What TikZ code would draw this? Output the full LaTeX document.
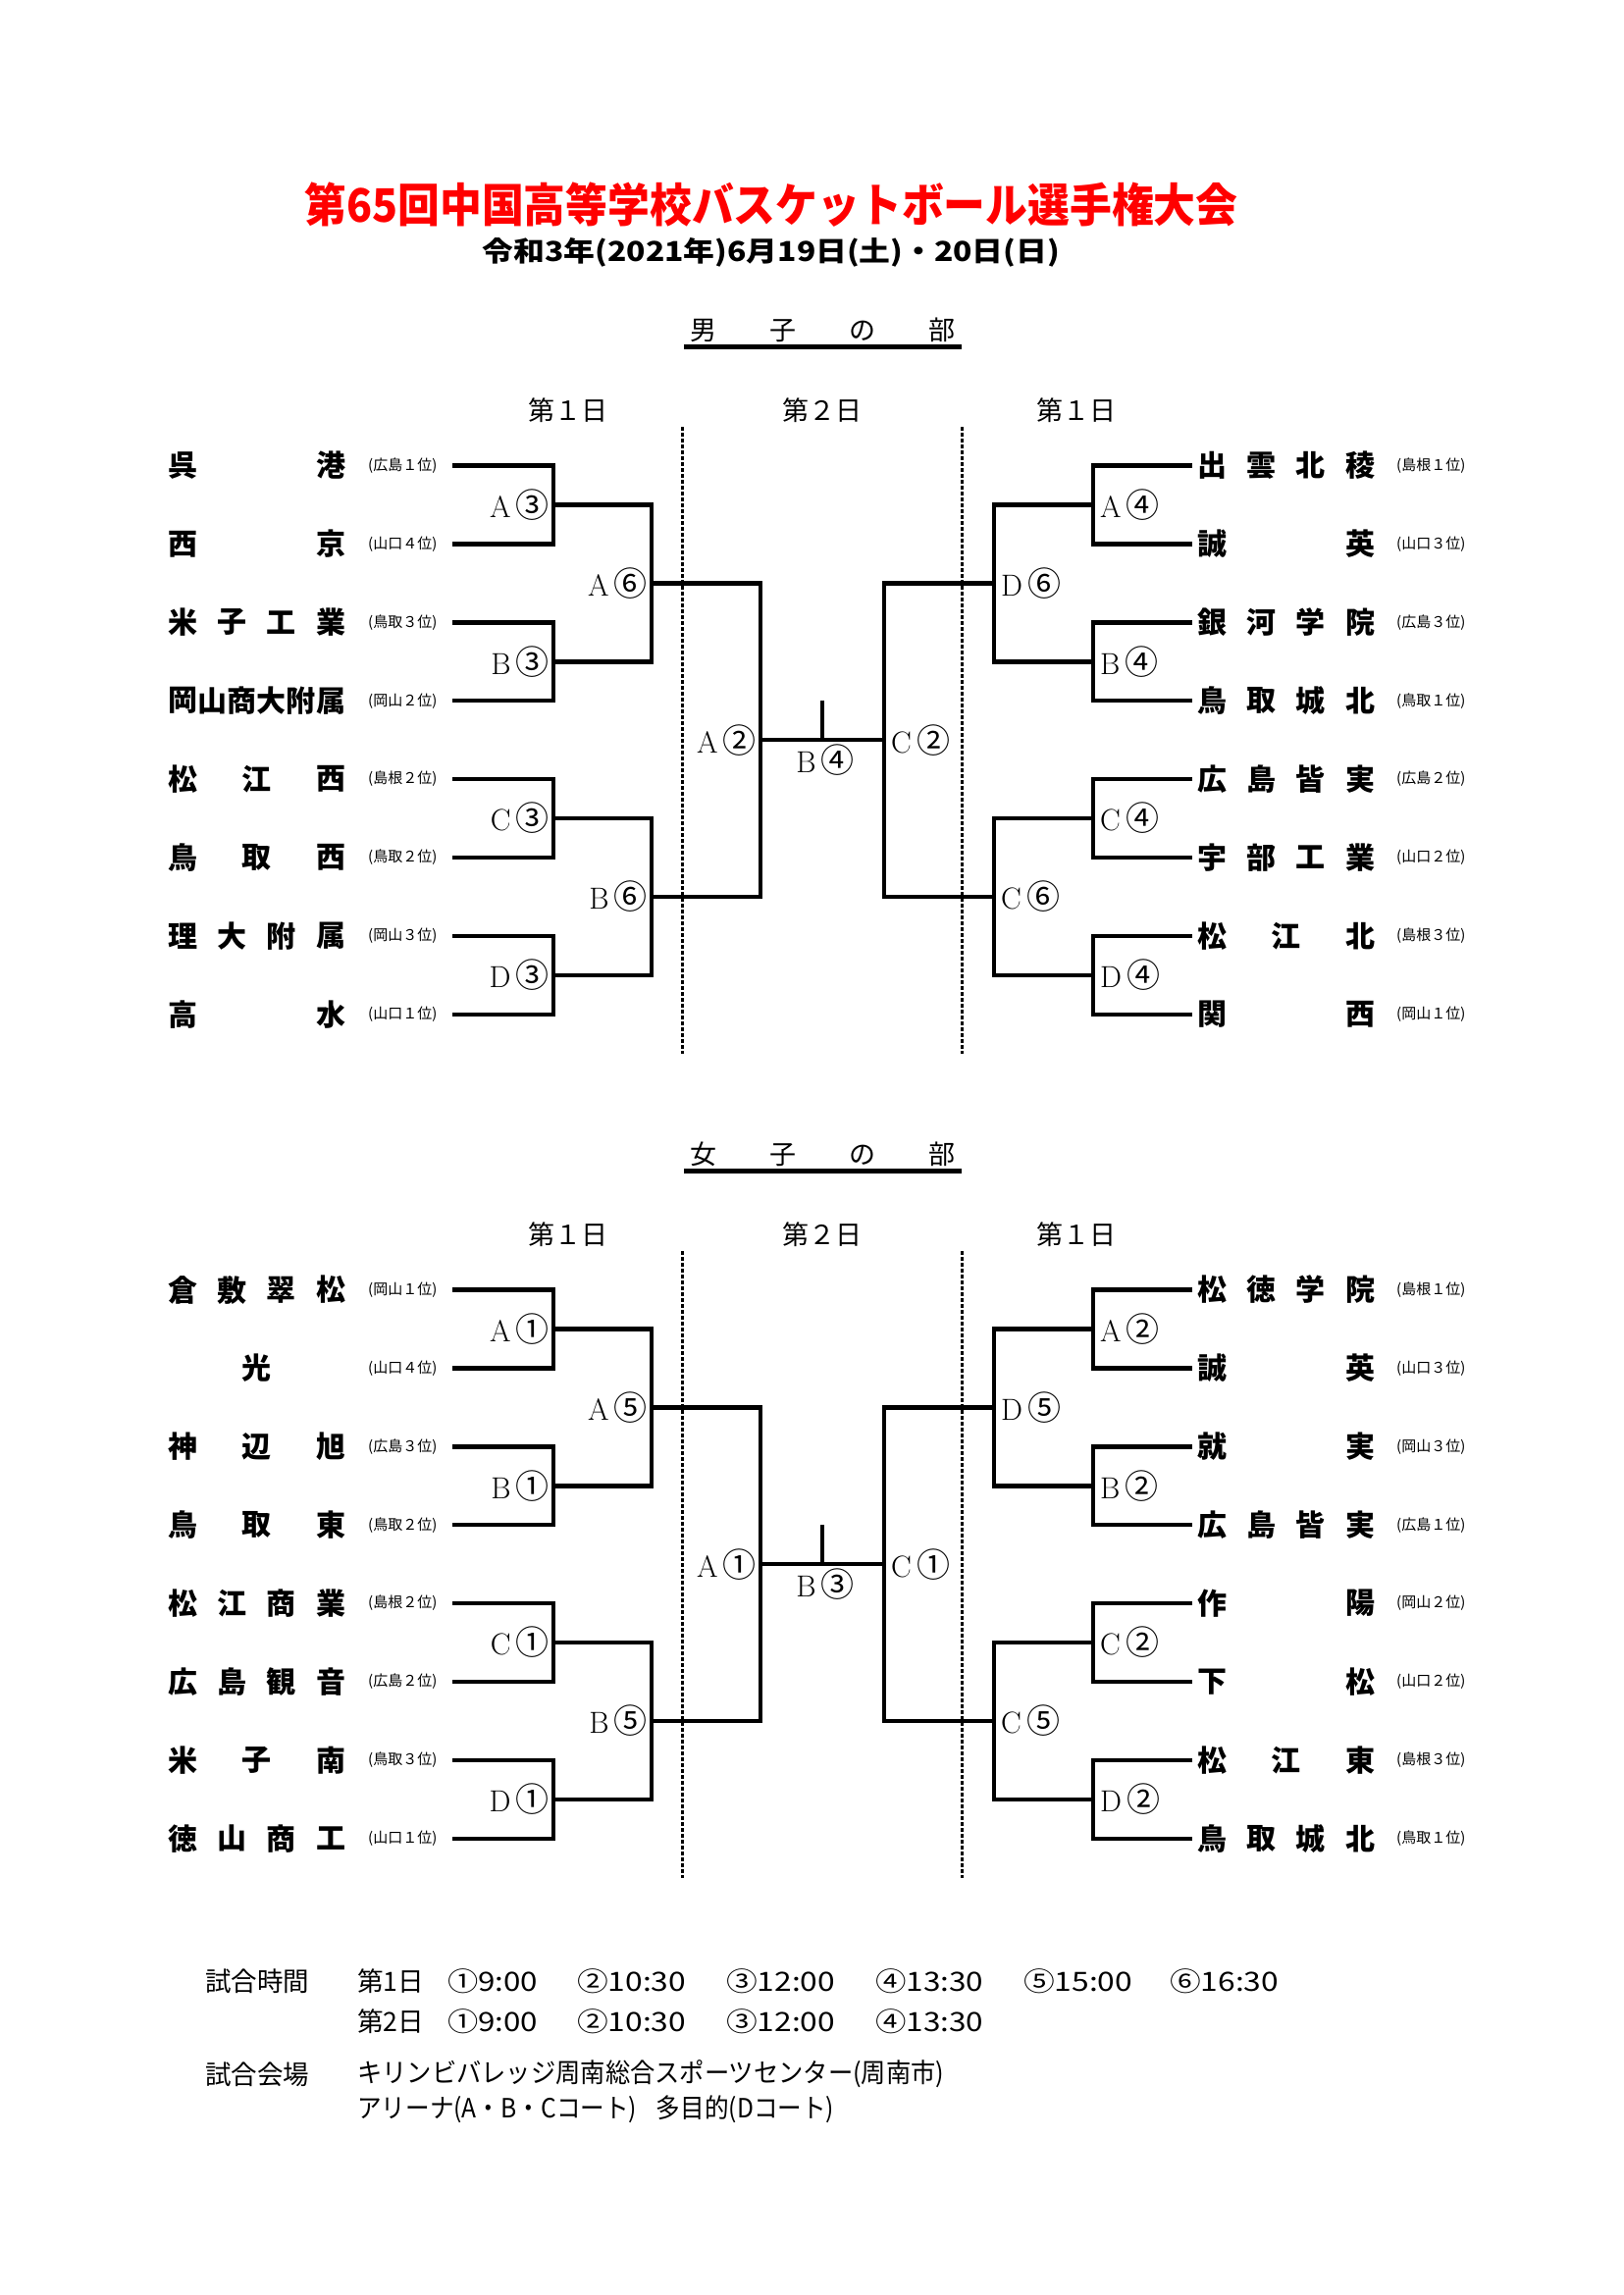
\documentclass[tikz,border=0pt]{standalone}
\usepackage{fontspec}
\usepackage{graphicx}
\newfontfamily\jp{Noto Sans CJK JP}
\usetikzlibrary{calc}

\tikzset{
  br/.style={line width=4.5pt, line join=miter},
  dl/.style={line width=3pt, dash pattern=on 4pt off 2pt},
  nm/.style={font=\jp\bfseries\fontsize{30}{30}\selectfont, inner sep=0pt},
  rk/.style={font=\jp\fontsize{15}{15}\selectfont, inner sep=0pt},
  lb/.style={font=\fontsize{31}{31}\selectfont, inner sep=0pt},
  dayl/.style={font=\jp\fontsize{27}{27}\selectfont, inner sep=0pt},
  hd/.style={font=\jp\fontsize{27}{27}\selectfont, inner sep=0pt},
  bt/.style={font=\jp\fontsize{27}{27}\selectfont, inner sep=0pt, anchor=west},
}

\newcommand{\tm}[5]{%
  \foreach \c [count=\k from 0] in {#5} {%
    \pgfmathsetmacro{\xx}{#4==1 ? #2+90.5 : #2+15+\k*151/max(#4-1,1)}%
    \node[nm] (#1-\k) at (\xx,#3) {\c};
  }}
\newcommand{\teamL}[5]{\tm{#1}{171}{#2}{#3}{#4}\node[rk,anchor=west] (#1r) at (375,#2) {#5};}
\newcommand{\teamR}[5]{\tm{#1}{1220}{#2}{#3}{#4}\node[rk,anchor=west] (#1r) at (1423,#2) {#5};}

\newcommand{\drawbracket}[2]{%
  \foreach \s/\a/\b/\c/\d in {L/461/564/664/775, R/1215/1114/1013/901} {
    \foreach \p in {0,1,2,3} {
      \pgfmathsetmacro{\ya}{474.5+159.8*\p+#1}
      \pgfmathsetmacro{\yb}{\ya+79.9}
      \pgfmathsetmacro{\ym}{\ya+39.95}
      \coordinate (#2\s a\p) at (\a,\ya);
      \coordinate (#2\s b\p) at (\a,\yb);
      \coordinate (#2\s j\p) at (\b,\ym);
      \draw[br] (#2\s a\p) -| (#2\s j\p) |- (#2\s b\p);
    }
    \foreach \q/\u/\v in {0/0/1,1/2/3} {
      \pgfmathsetmacro{\yk}{594.35+319.6*\q+#1}
      \coordinate (#2\s k\q) at (\c,\yk);
      \draw[br] (#2\s j\u) -| (#2\s k\q) |- (#2\s j\v);
    }
    \pgfmathsetmacro{\yf}{754.15+#1}
    \coordinate (#2\s f) at (\d,\yf);
    \draw[br] (#2\s k0) -| (#2\s f) |- (#2\s k1);
  }
  \pgfmathsetmacro{\yt}{714+#1}
  \coordinate (#2tk) at (838,\yt);
  \draw[br] (#2Lf) -- (#2Rf);
  \draw[br] (#2tk) -- (#2tk |- #2Lf);
  % dashed separators
  \pgfmathsetmacro{\dA}{435+#1}
  \pgfmathsetmacro{\dB}{1074+#1}
  \coordinate (#2d1a) at (695,\dA); \coordinate (#2d1b) at (695,\dB);
  \coordinate (#2d2a) at (980,\dA); \coordinate (#2d2b) at (980,\dB);
  \draw[dl] (#2d1a) -- (#2d1b);
  \draw[dl] (#2d2a) -- (#2d2b);
  % day labels
  \pgfmathsetmacro{\yd}{418+#1}
  \node[dayl] (#2day1) at (579,\yd) {第１日};
  \node[dayl] (#2day2) at (838,\yd) {第２日};
  \node[dayl] (#2day3) at (1097,\yd) {第１日};
  % underline
  \pgfmathsetmacro{\yu}{353.5+#1}
  \coordinate (#2u1) at (697,\yu); \coordinate (#2u2) at (980,\yu);
  \draw[line width=4.5pt] (#2u1) -- (#2u2);
}

\newcommand{\circd}[2]{#1\,{\jp\fontsize{34}{34}\selectfont #2}}

\begin{document}
\begin{tikzpicture}[x=1pt,y=-1pt]
\useasboundingbox (0,0) rectangle (1654,2339);

% Title
\node[font=\jp\bfseries\fontsize{47}{47}\selectfont, text=red, inner sep=0pt] (title) at (786,209)
  {\resizebox{951pt}{\height}{第65回中国高等学校バスケットボール選手権大会}};
\node[font=\jp\bfseries\fontsize{28}{28}\selectfont, inner sep=0pt] (subtitle) at (786,257)
  {\resizebox{588pt}{\height}{令和3年(2021年)6月19日(土)・20日(日)}};

% ================= Men =================
\node[hd] (mhead) at (838,336) {男\hspace{2em}子\hspace{2em}の\hspace{2em}部};
\drawbracket{0}{m}

\teamL{mL0}{474.5}{2}{呉,港}{(広島１位)}
\teamL{mL1}{554.4}{2}{西,京}{(山口４位)}
\teamL{mL2}{634.3}{4}{米,子,工,業}{(鳥取３位)}
\teamL{mL3}{714.2}{6}{岡,山,商,大,附,属}{(岡山２位)}
\teamL{mL4}{794.1}{3}{松,江,西}{(島根２位)}
\teamL{mL5}{874.0}{3}{鳥,取,西}{(鳥取２位)}
\teamL{mL6}{953.9}{4}{理,大,附,属}{(岡山３位)}
\teamL{mL7}{1033.8}{2}{高,水}{(山口１位)}

\teamR{mR0}{474.5}{4}{出,雲,北,稜}{(島根１位)}
\teamR{mR1}{554.4}{2}{誠,英}{(山口３位)}
\teamR{mR2}{634.3}{4}{銀,河,学,院}{(広島３位)}
\teamR{mR3}{714.2}{4}{鳥,取,城,北}{(鳥取１位)}
\teamR{mR4}{794.1}{4}{広,島,皆,実}{(広島２位)}
\teamR{mR5}{874.0}{4}{宇,部,工,業}{(山口２位)}
\teamR{mR6}{953.9}{3}{松,江,北}{(島根３位)}
\teamR{mR7}{1033.8}{2}{関,西}{(岡山１位)}

\foreach \id/\l/\n in {j0/A/③, j1/B/③, j2/C/③, j3/D/③, k0/A/⑥, k1/B/⑥}
  \node[lb, anchor=east, xshift=-4pt] (mL\id lab) at (mL\id) {\circd{\l}{\n}};
\foreach \id/\l/\n in {j0/A/④, j1/B/④, j2/C/④, j3/D/④, k0/D/⑥, k1/C/⑥}
  \node[lb, anchor=west, xshift=7pt] (mR\id lab) at (mR\id) {\circd{\l}{\n}};
\node[lb, anchor=east, xshift=-4pt] (mLflab) at (mLf) {\circd{A}{②}};
\node[lb, anchor=west, xshift=7pt] (mRflab) at (mRf) {\circd{C}{②}};
\node[lb, anchor=north, xshift=3pt, yshift=-4pt] (mtklab) at (mtk |- mLf) {\circd{B}{④}};

% ================= Women =================
\node[hd] (whead) at (838,1176) {女\hspace{2em}子\hspace{2em}の\hspace{2em}部};
\drawbracket{840}{w}

\teamL{wL0}{1314.5}{4}{倉,敷,翠,松}{(岡山１位)}
\teamL{wL1}{1394.4}{1}{光}{(山口４位)}
\teamL{wL2}{1474.3}{3}{神,辺,旭}{(広島３位)}
\teamL{wL3}{1554.2}{3}{鳥,取,東}{(鳥取２位)}
\teamL{wL4}{1634.1}{4}{松,江,商,業}{(島根２位)}
\teamL{wL5}{1714.0}{4}{広,島,観,音}{(広島２位)}
\teamL{wL6}{1793.9}{3}{米,子,南}{(鳥取３位)}
\teamL{wL7}{1873.8}{4}{徳,山,商,工}{(山口１位)}

\teamR{wR0}{1314.5}{4}{松,徳,学,院}{(島根１位)}
\teamR{wR1}{1394.4}{2}{誠,英}{(山口３位)}
\teamR{wR2}{1474.3}{2}{就,実}{(岡山３位)}
\teamR{wR3}{1554.2}{4}{広,島,皆,実}{(広島１位)}
\teamR{wR4}{1634.1}{2}{作,陽}{(岡山２位)}
\teamR{wR5}{1714.0}{2}{下,松}{(山口２位)}
\teamR{wR6}{1793.9}{3}{松,江,東}{(島根３位)}
\teamR{wR7}{1873.8}{4}{鳥,取,城,北}{(鳥取１位)}

\foreach \id/\l/\n in {j0/A/①, j1/B/①, j2/C/①, j3/D/①, k0/A/⑤, k1/B/⑤}
  \node[lb, anchor=east, xshift=-4pt] (wL\id lab) at (wL\id) {\circd{\l}{\n}};
\foreach \id/\l/\n in {j0/A/②, j1/B/②, j2/C/②, j3/D/②, k0/D/⑤, k1/C/⑤}
  \node[lb, anchor=west, xshift=7pt] (wR\id lab) at (wR\id) {\circd{\l}{\n}};
\node[lb, anchor=east, xshift=-4pt] (wLflab) at (wLf) {\circd{A}{①}};
\node[lb, anchor=west, xshift=7pt] (wRflab) at (wRf) {\circd{C}{①}};
\node[lb, anchor=north, xshift=3pt, yshift=-4pt] (wtklab) at (wtk |- wLf) {\circd{B}{③}};

% ================= Footer =================
\node[bt] (h1) at (209,2019) {\resizebox{106pt}{\height}{試合時間}};
\node[bt] (d1) at (364,2019) {\resizebox{68pt}{\height}{第1日}};
\foreach \x/\w/\t [count=\i] in {456/92/①9:00, 588/111/②10:30, 740/111/③12:00, 892/110/④13:30, 1043/111/⑤15:00, 1192/111/⑥16:30}
  \node[bt] (ta\i) at (\x,2019) {\resizebox{\w pt}{\height}{\t}};
\node[bt] (d2) at (364,2060) {\resizebox{68pt}{\height}{第2日}};
\foreach \x/\w/\t [count=\i] in {456/92/①9:00, 588/111/②10:30, 740/111/③12:00, 892/110/④13:30}
  \node[bt] (tb\i) at (\x,2060) {\resizebox{\w pt}{\height}{\t}};
\node[bt] (h2) at (209,2114) {\resizebox{106pt}{\height}{試合会場}};
\node[bt] (v1) at (364,2114) {\resizebox{598pt}{\height}{キリンビバレッジ周南総合スポーツセンター(周南市)}};
\node[bt] (v2) at (364,2150) {\resizebox{486pt}{\height}{アリーナ(A・B・Cコート)\hspace{0.8em}多目的(Dコート)}};

\end{tikzpicture}
\end{document}
